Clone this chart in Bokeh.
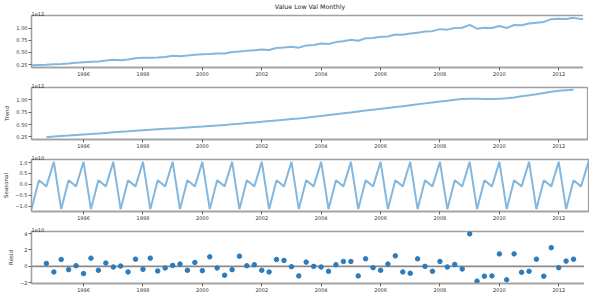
import numpy as np
import pandas as pd
from bokeh.plotting import figure
from bokeh.layouts import column
from bokeh.models import Range1d, FixedTicker, Title, Span, DatetimeTickFormatter
from bokeh.embed import file_html
from bokeh.resources import INLINE

# ---------------- data (values in display units: observed/trend x1e12, seasonal/resid x1e10)
quarters = pd.date_range("1994-04-01", periods=76, freq="QS")

observed = [0.240, 0.245, 0.248, 0.260, 0.264, 0.275, 0.288, 0.301, 0.309, 0.317,
            0.334, 0.352, 0.342, 0.358, 0.382, 0.392, 0.393, 0.399, 0.409, 0.433,
            0.422, 0.437, 0.453, 0.463, 0.470, 0.480, 0.480, 0.510, 0.518, 0.533,
            0.544, 0.562, 0.551, 0.592, 0.601, 0.619, 0.599, 0.644, 0.654, 0.683,
            0.674, 0.713, 0.732, 0.761, 0.740, 0.792, 0.797, 0.823, 0.827, 0.868,
            0.863, 0.892, 0.906, 0.929, 0.938, 0.979, 0.969, 1.004, 1.009, 1.068,
            0.989, 1.006, 1.002, 1.044, 1.002, 1.065, 1.061, 1.094, 1.111, 1.128,
            1.184, 1.191, 1.189, 1.211, 1.185, 1.205]

trend = [0.245, 0.256, 0.267, 0.277, 0.288, 0.299, 0.310, 0.320, 0.331, 0.342,
         0.353, 0.363, 0.374, 0.385, 0.394, 0.403, 0.412, 0.421, 0.430, 0.440,
         0.449, 0.458, 0.470, 0.480, 0.492, 0.504, 0.517, 0.530, 0.543, 0.556,
         0.569, 0.582, 0.595, 0.609, 0.622, 0.637, 0.655, 0.673, 0.691, 0.709,
         0.727, 0.745, 0.763, 0.781, 0.799, 0.817, 0.835, 0.853, 0.871, 0.890,
         0.908, 0.927, 0.945, 0.963, 0.981, 1.000, 1.013, 1.018, 1.018, 1.016,
         1.014, 1.018, 1.030, 1.048, 1.069, 1.090, 1.113, 1.138, 1.162, 1.182,
         1.194, 1.200]

seasonal = [-1.13, 0.19, -0.09, 1.03, -1.13, 0.19, -0.09, 1.03, -1.13, 0.19,
            -0.09, 1.03, -1.13, 0.19, -0.09, 1.03, -1.13, 0.19, -0.09, 1.03,
            -1.13, 0.19, -0.09, 1.03, -1.13, 0.19, -0.09, 1.03, -1.13, 0.19,
            -0.09, 1.03, -1.13, 0.19, -0.09, 1.03, -1.13, 0.19, -0.09, 1.03,
            -1.13, 0.19, -0.09, 1.03, -1.13, 0.19, -0.09, 1.03, -1.13, 0.19,
            -0.09, 1.03, -1.13, 0.19, -0.09, 1.03, -1.13, 0.19, -0.09, 1.03,
            -1.13, 0.19, -0.09, 1.03, -1.13, 0.19, -0.09, 1.03, -1.13, 0.19,
            -0.09, 1.03, -1.13, 0.19, -0.09, 1.03]

resid = [0.36, -0.68, 0.84, -0.40, 0.08, -0.88, 1.00, -0.48, 0.40, -0.08,
         0.04, -0.68, 0.88, -0.36, 1.00, -0.56, -0.20, 0.12, 0.28, -0.48,
         0.48, -0.52, 1.16, -0.20, -1.08, -0.40, 1.24, 0.08, 0.20, -0.48,
         -0.68, 0.84, 0.72, -0.04, -1.16, 0.52, 0.00, -0.08, -0.60, 0.20,
         0.60, 0.60, -1.16, 0.92, -0.16, -0.48, 0.28, 1.28, -0.68, -0.84,
         0.92, 0.00, -0.60, 0.60, -0.08, 0.24, -0.32, 3.96, -1.80, -1.20,
         -1.16, 1.52, -1.64, 1.52, -0.72, -0.60, 0.88, -1.20, 2.28, -0.16,
         0.64, 0.88]

title_text = "Value Low Val Monthly"
year_ticks = [1996, 1998, 2000, 2002, 2004, 2006, 2008, 2010, 2012]
obs_ticks = {0.25: "0.25", 0.5: "0.50", 0.75: "0.75", 1.0: "1.00"}
trend_ticks = {0.25: "0.25", 0.5: "0.50", 0.75: "0.75", 1.0: "1.00"}
seas_ticks = {-1.0: "\u22121.0", -0.5: "\u22120.5", 0.0: "0.0", 0.5: "0.5", 1.0: "1.0"}
resid_ticks = {-2: "\u22122", 0: "0", 2: "2", 4: "4"}

# ---------------- styling
FONT = "DejaVu Sans"
LINE_C = "#84b7de"
DOT_C = "#2c7bbb"
FRAME_C = "#a0a0a0"
TXT_C = "#333333"

x_range = Range1d(quarters[0], quarters[-1])
tick_ms = [pd.Timestamp(f"{y}-01-01").value / 1e6 for y in year_ticks]


def padded(vals):
    lo, hi = float(np.nanmin(vals)), float(np.nanmax(vals))
    m = (hi - lo) * 0.05
    return Range1d(lo - m, hi + m)


def make_fig(yvals, ticks, scale_txt, ylabel, top, main_title=None):
    p = figure(frame_width=557, frame_height=52, x_axis_type="datetime", x_range=x_range,
               y_range=padded(yvals), output_backend="svg", toolbar_location=None,
               min_border_left=25, min_border_right=1, min_border_top=top,
               min_border_bottom=0)
    p.grid.visible = False
    p.outline_line_color = FRAME_C
    p.outline_line_width = 1.3
    p.background_fill_color = "white"
    p.border_fill_color = "white"
    p.xaxis.ticker = FixedTicker(ticks=tick_ms)
    p.xaxis.formatter = DatetimeTickFormatter(years="%Y", months="%Y", days="%Y",
                                              hours="%Y", minutes="%Y", seconds="%Y")
    p.yaxis.ticker = FixedTicker(ticks=list(ticks.keys()))
    p.yaxis.major_label_overrides = ticks
    for ax in (p.xaxis[0], p.yaxis[0]):
        ax.axis_line_color = FRAME_C
        ax.axis_line_width = 1.3
        ax.major_tick_line_color = "#666666"
        ax.major_tick_out = 3
        ax.major_tick_in = 0
        ax.minor_tick_out = 0
        ax.minor_tick_in = 0
        ax.major_label_text_font = FONT
        ax.major_label_text_font_size = "5px"
        ax.major_label_text_color = TXT_C
        ax.major_label_standoff = 1
    if ylabel:
        p.yaxis.axis_label = ylabel
        p.yaxis.axis_label_text_font = FONT
        p.yaxis.axis_label_text_font_size = "5.5px"
        p.yaxis.axis_label_text_font_style = "normal"
        p.yaxis.axis_label_text_color = TXT_C
        p.yaxis.axis_label_standoff = 3
    p.add_layout(Title(text=scale_txt, align="left", text_font=FONT, text_font_size="5px",
                       text_font_style="normal", text_color=TXT_C, standoff=0, offset=0), "above")
    if main_title:
        p.add_layout(Title(text=main_title, align="center", text_font=FONT, text_font_size="6.3px",
                           text_font_style="normal", text_color="#222222", standoff=0, offset=0), "above")
    return p


p1 = make_fig(observed, obs_ticks, "1e12", None, 0, title_text)
p1.line(quarters, observed, line_color=LINE_C, line_width=2)

p2 = make_fig(trend, trend_ticks, "1e12", "Trend", 9)
p2.line(quarters[2:-2], trend, line_color=LINE_C, line_width=2)

p3 = make_fig(seasonal, seas_ticks, "1e10", "Seasonal", 9)
p3.line(quarters, seasonal, line_color=LINE_C, line_width=2)

p4 = make_fig(resid, resid_ticks, "1e10", "Resid", 9)
p4.add_layout(Span(location=0, dimension="width", line_color="#8a8a8a", line_width=1.6,
                   level="underlay"))
p4.scatter(quarters[2:-2], resid, size=4.5, fill_color=DOT_C, line_color=DOT_C)

layout = column(p1, p2, p3, p4, spacing=0)
open("out.html", "w").write(file_html(layout, INLINE))
